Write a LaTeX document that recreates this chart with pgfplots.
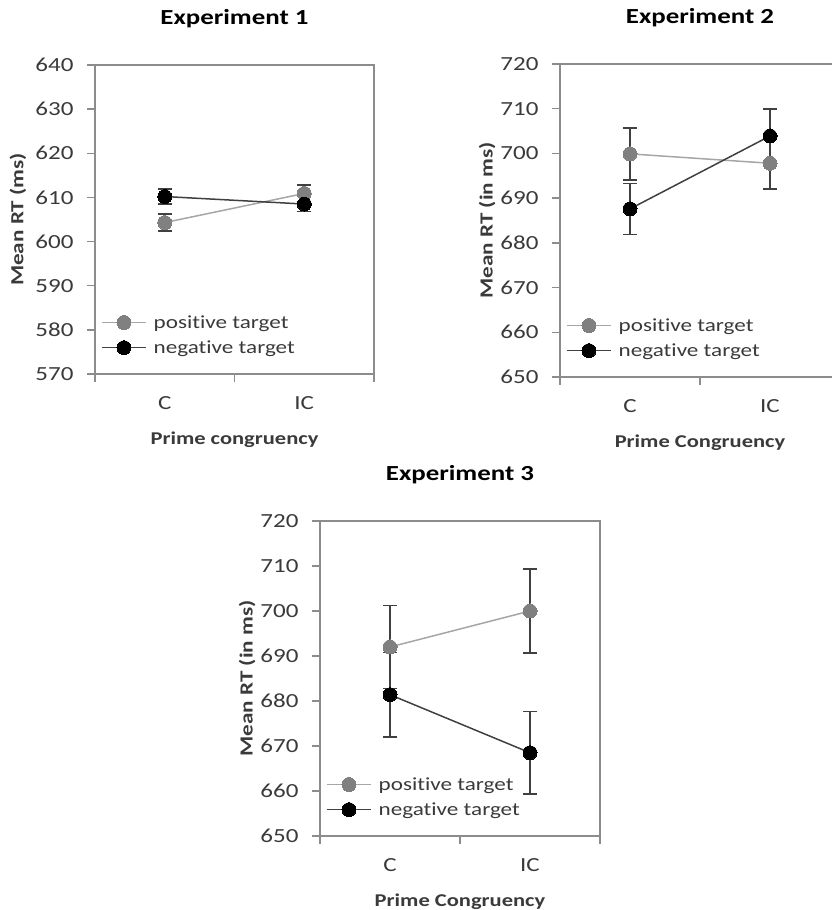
\documentclass[border=0pt]{standalone}
\usepackage{pgfplots}
\pgfplotsset{compat=1.18}
\usepackage{fontspec}
\setmainfont[FakeStretch=1.25, Ligatures={NoCommon}]{Carlito}

\definecolor{axgray}{HTML}{8C8C8C}
\definecolor{posline}{HTML}{A6A6A6}
\definecolor{posmark}{HTML}{808080}
\definecolor{negline}{HTML}{404040}
\definecolor{errc}{HTML}{404040}
\definecolor{txt}{HTML}{3A3A3A}

\pgfplotsset{
  rtstyle/.style={
    scale only axis,
    width=280pt,
    xmin=0, xmax=2,
    axis lines=box,
    axis line style={axgray, line width=1.5pt},
    tick pos=left,
    tick align=outside,
    major tick length=8pt,
    major tick style={axgray, line width=1.5pt},
    xtick={0,1,2},
    xticklabels={},
    extra x ticks={0.5,1.5},
    extra x tick labels={C,IC},
    extra x tick style={major tick style={draw=none}},
    ytick distance=10,
    /pgf/number format/assume math mode=true,
    tick label style={font=\fontsize{20}{22}\selectfont, text=txt},
    yticklabel style={xshift=-10pt},
    xticklabel style={yshift=-11pt},
    title style={font=\bfseries\fontsize{21.5}{24}\selectfont, at={(axis description cs:0.5,1)}, anchor=center, yshift=40pt},
    xlabel style={font=\bfseries\fontsize{18}{20}\selectfont, text=txt, at={(axis description cs:0.5,0)}, anchor=center, yshift=-66pt},
    ylabel style={font=\bfseries\fontsize{18.5}{20}\selectfont, text=txt, rotate=0},
    legend style={font=\fontsize{18.5}{20}\selectfont, text=txt, draw=none, fill=none,
      at={(axis description cs:0,0)}, anchor=south west, xshift=6pt, yshift=17pt,
      row sep=7pt, inner sep=0pt, cells={anchor=west}},
    legend image code/.code={\draw[mark repeat=2,mark phase=2,#1] plot coordinates {(0pt,0pt)(22pt,0pt)(44pt,0pt)};},
    legend cell align=left,
    clip=false,
  },
  posstyle/.style={color=posline, line width=1.5pt, mark=*, mark size=7pt,
    mark options={fill=posmark, draw=posmark, line width=0pt},
    error bars/.cd, y dir=both, y explicit,
    error bar style={errc, line width=1.5pt},
    error mark options={rotate=90, mark size=7pt, line width=1.5pt, errc}},
  negstyle/.style={color=negline, line width=1.5pt, mark=*, mark size=7pt,
    mark options={fill=black, draw=black, line width=0pt},
    error bars/.cd, y dir=both, y explicit,
    error bar style={errc, line width=1.5pt},
    error mark options={rotate=90, mark size=7pt, line width=1.5pt, errc}},
}

\begin{document}
\begin{tikzpicture}[x=1pt,y=1pt]
\path (0,0) rectangle (832,910);

% Experiment 1
\begin{axis}[rtstyle, at={(95pt,536pt)}, anchor=south west, width=279pt, height=309pt,
  ymin=570, ymax=640, title={Experiment 1},
  xlabel={Prime congruency}, ylabel={Mean RT (ms)},
  ylabel style={at={(axis description cs:-0.276,0.5)}, anchor=center, rotate=0}]
\addplot[posstyle] coordinates {(0.5,604.3) +- (0,1.9) (1.5,610.9) +- (0,1.9)};
\addlegendentry{\hspace{5pt}positive target}
\addplot[negstyle] coordinates {(0.5,610.2) +- (0,1.7) (1.5,608.5) +- (0,1.7)};
\addlegendentry{\hspace{5pt}negative target}
\end{axis}

% Experiment 2
\begin{axis}[rtstyle, at={(560pt,533pt)}, anchor=south west, width=280pt, height=313pt,
  ymin=650, ymax=720, title={Experiment 2},
  xlabel={Prime Congruency}, ylabel={Mean RT (in ms)},
  ylabel style={at={(axis description cs:-0.26,0.5)}, anchor=center, rotate=0}]
\addplot[posstyle] coordinates {(0.5,699.9) +- (0,5.8) (1.5,697.8) +- (0,5.7)};
\addlegendentry{\hspace{5pt}positive target}
\addplot[negstyle] coordinates {(0.5,687.6) +- (0,5.7) (1.5,703.9) +- (0,6.0)};
\addlegendentry{\hspace{5pt}negative target}
\end{axis}

% Experiment 3
\begin{axis}[rtstyle, at={(320pt,74pt)}, anchor=south west, width=280pt, height=315pt,
  ymin=650, ymax=720, title={Experiment 3},
  xlabel={Prime Congruency}, ylabel={Mean RT (in ms)},
  ylabel style={at={(axis description cs:-0.26,0.5)}, anchor=center, rotate=0}]
\addplot[posstyle] coordinates {(0.5,692.0) +- (0,9.2) (1.5,700.0) +- (0,9.3)};
\addlegendentry{\hspace{5pt}positive target}
\addplot[negstyle] coordinates {(0.5,681.4) +- (0,9.4) (1.5,668.5) +- (0,9.2)};
\addlegendentry{\hspace{5pt}negative target}
\end{axis}

\pgfresetboundingbox
\path[use as bounding box] (0,0) rectangle (832,910);
\end{tikzpicture}
\end{document}
